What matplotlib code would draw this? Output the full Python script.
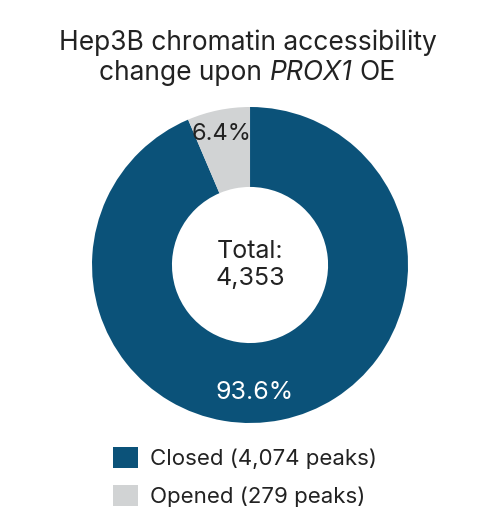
import matplotlib
matplotlib.use('Agg')
import matplotlib.pyplot as plt
from matplotlib.patches import Patch

# data
labels = ['Closed', 'Opened']
peaks = [4074, 279]
colors = ['#0b5279', '#d1d3d4']
total = sum(peaks)
title_line1 = 'Hep3B chromatin accessibility'
title_line2 = [('change upon', 'normal'), ('PROX1', 'italic'), ('OE', 'normal')]

plt.rcParams['font.family'] = ['Inter', 'DejaVu Sans']
txt_color = '#222222'

fig = plt.figure(figsize=(4.95, 5.26), dpi=100)
ax = fig.add_axes([0.1859, 0.1958, 0.6384, 0.6008])

wedges, _ = ax.pie(peaks, colors=colors, startangle=90, counterclock=False,
                   radius=1.0, wedgeprops=dict(width=0.506, linewidth=0))
ax.set_aspect('equal')
ax.set_xlim(-1, 1)
ax.set_ylim(-1, 1)

pct = [100 * p / total for p in peaks]
ax.text(0.03, -0.81, f'{pct[0]:.1f}%', ha='center', va='center', fontsize=18,
        color='white')
ax.text(-0.18, 0.83, f'{pct[1]:.1f}%', ha='center', va='center', fontsize=17,
        color=txt_color)
ax.text(0, 0.0, f'Total:\n{total:,}', ha='center', va='center', fontsize=18,
        color=txt_color, linespacing=1.2)

# title, line 2 has an italic gene name
fs_title = 19
fig.text(0.5, 0.918, title_line1, ha='center', va='center', fontsize=fs_title,
         color=txt_color)
renderer = fig.canvas.get_renderer()
y2 = 0.861
pieces = []
for s, style in title_line2:
    t = fig.text(0, y2, s, ha='left', va='center', fontsize=fs_title,
                 fontstyle=style, color=txt_color)
    pieces.append(t)
sp = fig.text(0, 0, 'a a', fontsize=fs_title)
sp2 = fig.text(0, 0, 'aa', fontsize=fs_title)
space_w = (sp.get_window_extent(renderer).width - sp2.get_window_extent(renderer).width)
sp.remove()
sp2.remove()
widths = [t.get_window_extent(renderer).width for t in pieces]
fig_w = fig.get_figwidth() * fig.dpi
total_w = sum(widths) + space_w * (len(pieces) - 1)
x = fig_w / 2 - total_w / 2
for t, w in zip(pieces, widths):
    t.set_x(x / fig_w)
    x += w + space_w

handles = [Patch(facecolor=c, edgecolor='none') for c in colors]
leg_labels = [f'{l} ({p:,} peaks)' for l, p in zip(labels, peaks)]
leg = fig.legend(handles, leg_labels, loc='upper left', bbox_to_anchor=(0.206, 0.171),
                 frameon=False, handlelength=1.1, handleheight=1.1,
                 handletextpad=0.55, labelspacing=0.7, borderpad=0,
                 prop=dict(size=16), labelcolor=txt_color)

fig.savefig('out.png', dpi=100)
plt.close('all')
